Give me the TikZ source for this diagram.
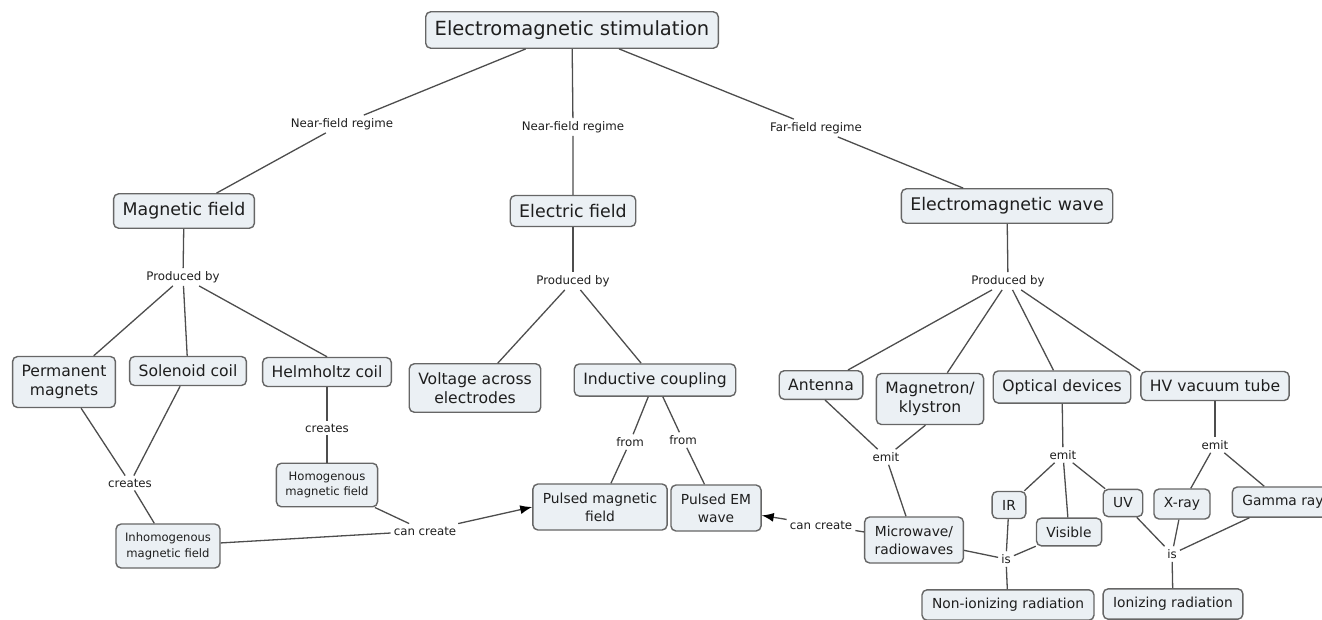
\documentclass[tikz,border=0pt]{standalone}
\usepackage{fontspec}
\setmainfont{DejaVu Sans}
\usetikzlibrary{arrows.meta}
\definecolor{boxfill}{HTML}{EBF0F4}
\definecolor{boxline}{HTML}{666666}
\definecolor{wire}{HTML}{4D4D4D}
\definecolor{ink}{HTML}{1E1E1E}
\tikzstyle{concept}=[draw=boxline, fill=boxfill, rounded corners=5pt, line width=1.4pt, align=center, text=ink, inner xsep=9pt]
\tikzstyle{topc}=[concept, font=\fontsize{19.5}{23}\selectfont, inner ysep=8.8pt]
\tikzstyle{bigc}=[concept, font=\fontsize{17.4}{21}\selectfont, inner ysep=8.8pt]
\tikzstyle{midc}=[concept, font=\fontsize{15.6}{19.4}\selectfont, inner ysep=8.5pt]
\tikzstyle{smallc}=[concept, font=\fontsize{13.8}{18.3}\selectfont, inner xsep=10pt, inner ysep=8.5pt]
\tikzstyle{tinyc}=[concept, font=\fontsize{11.6}{15.7}\selectfont, inner ysep=8.5pt]
\tikzstyle{phrase}=[inner sep=3pt, text=ink, font=\fontsize{11.8}{14}\selectfont]
\tikzstyle{link}=[draw=wire, line width=1.3pt]
\tikzstyle{pointer}=[link, -{Latex[length=12pt,width=9pt,black]}]

\begin{document}
\begin{tikzpicture}[x=1pt, y=-1pt]
            \clip (0,0) rectangle (1322,619);

            \node[topc] (stim) at (572,30) {Electromagnetic stimulation};

            \begin{scope}[every node/.style={bigc}]
                \node (mf) at (184,211) {Magnetic field};
                \node (ef) at (573,211) {Electric field};
                \node (emw) at (1007,206) {Electromagnetic wave};
            \end{scope}

            \begin{scope}[every node/.style={midc}]
                \node (pm) at (64,382) {Permanent\\magnets};
                \node (sc) at (188,371) {Solenoid coil};
                \node (hc) at (327,372) {Helmholtz coil};
                \node (vae) at (475,388) {Voltage across\\electrodes};
                \node (ic) at (655,380) {Inductive coupling};
                \node (ant) at (821,385) {Antenna};
                \node (mag) at (930,399) {Magnetron/\\klystron};
                \node (od) at (1062,387) {Optical devices};
                \node (hv) at (1215,386) {HV vacuum tube};
            \end{scope}

            \begin{scope}[every node/.style={smallc}]
                \node (pmf) at (600,507) {Pulsed magnetic\\field};
                \node (pem) at (716,508) {Pulsed EM\\wave};
                \node (ir) at (1009,505) {IR};
                \node (vis) at (1069,532) {Visible};
                \node (uv) at (1123,503) {UV};
                \node (xr) at (1182,504) {X-ray};
                \node (gr) at (1283,502) {Gamma ray};
                \node (mw) at (914,540) {Microwave/\\radiowaves};
                \node (nir) at (1008,605) {Non-ionizing radiation};
                \node (ionr) at (1173,604) {Ionizing radiation};
            \end{scope}

            \begin{scope}[every node/.style={tinyc}]
                \node (hmf) at (327,485) {Homogenous\\magnetic field};
                \node (imf) at (168,546) {Inhomogenous\\magnetic field};
            \end{scope}

            \begin{scope}[every node/.style={phrase}]
                \node (l1) at (342,124) {Near-field regime};
                \node (l2) at (573,127) {Near-field regime};
                \node (l3) at (816,128) {Far-field regime};
                \node (pb1) at (183,277) {Produced by};
                \node (pb2) at (573,281) {Produced by};
                \node (pb3) at (1008,281) {Produced by};
                \node (cr1) at (130,483) {creates};
                \node (cr2) at (327,428) {creates};
                \node (fr1) at (630,442) {from};
                \node (fr2) at (683,440) {from};
                \node (cc1) at (425,531) {can create};
                \node (cc2) at (821,525) {can create};
                \node (em1) at (886,457) {emit};
                \node (em2) at (1063,455) {emit};
                \node (em3) at (1215,445) {emit};
                \node (is1) at (1006,559) {is};
                \node (is2) at (1172,554) {is};
            \end{scope}

            \begin{scope}[every path/.style={link}]
                \path (stim) -- (l1) -- (mf);
                \path (stim) -- (l2) -- (ef);
                \path (stim) -- (l3) -- (emw);
                \path (mf) -- (pb1);
                \path (pb1) -- (pm);
                \path (pb1) -- (sc);
                \path (pb1) -- (hc.north);
                \path (pm) -- (cr1) -- (imf);
                \path (sc) -- (cr1);
                \path (hc) -- (cr2) -- (hmf);
                \path (imf) -- (cc1);
                \path (hmf) -- (cc1);
                \path (ef) -- (pb2);
                \path (pb2) -- (vae);
                \path (pb2) -- (ic);
                \path (ic) -- (fr1) -- (pmf);
                \path (ic) -- (fr2) -- (pem);
                \path (emw) -- (pb3);
                \path (pb3) -- (ant);
                \path (pb3) -- (mag);
                \path (pb3) -- (od);
                \path (pb3) -- (hv.north west);
                \path (ant.-75) -- (em1);
                \path (mag.-100) -- (em1);
                \path (em1) -- (mw);
                \path (od) -- (em2);
                \path (em2) -- (ir);
                \path (em2) -- (vis);
                \path (em2) -- (uv);
                \path (hv) -- (em3);
                \path (em3) -- (xr);
                \path (em3) -- (gr);
                \path (mw) -- (cc2);
                \path (mw) -- (is1);
                \path (ir) -- (is1);
                \path (vis) -- (is1);
                \path (is1) -- (nir);
                \path (uv) -- (is2);
                \path (xr) -- (is2);
                \path (gr) -- (is2);
                \path (is2) -- (ionr);
                \path[pointer] (cc1) -- (pmf.west);
                \path[pointer] (cc2) -- (pem);
            \end{scope}
        \end{tikzpicture}
\end{document}
